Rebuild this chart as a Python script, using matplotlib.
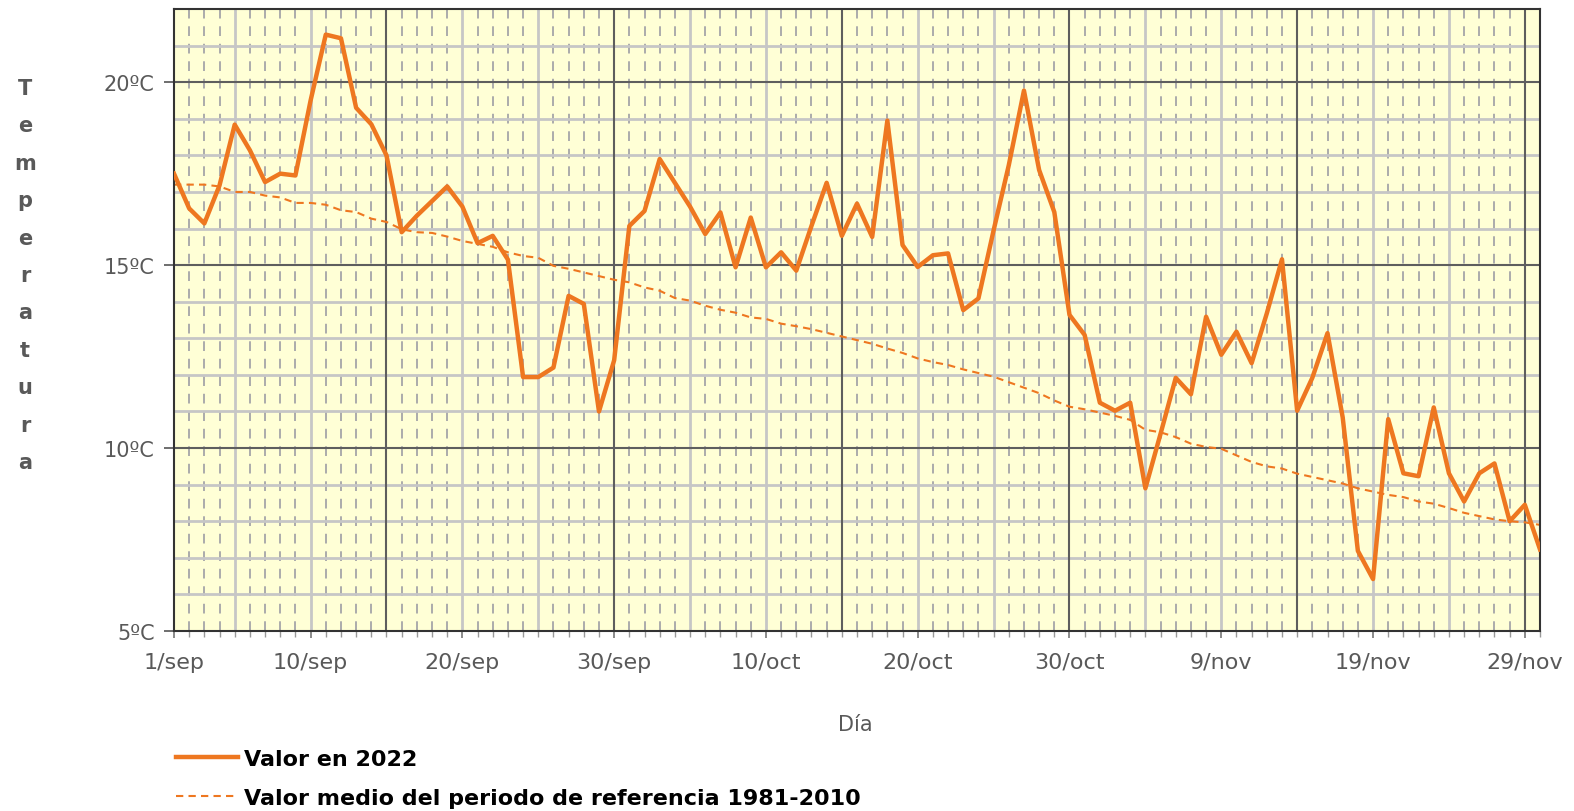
import numpy as np
import matplotlib
matplotlib.use("Agg")
import matplotlib.pyplot as plt

# ---- data ----
days = list(range(1, 92))  # 1 = 1/sep ... 91 = 30/nov
valor_2022 = [
    17.5, 16.55, 16.14, 17.18, 18.84, 18.14, 17.27, 17.5, 17.45, 19.5,
    21.3, 21.2, 19.3, 18.85, 18.0, 15.9, 16.35, 16.75, 17.15, 16.6,
    15.6, 15.8, 15.15, 11.94, 11.94, 12.2, 14.16, 13.94, 11.0, 12.4,
    16.07, 16.48, 17.9, 17.25, 16.6, 15.85, 16.44, 14.94, 16.3, 14.94,
    15.35, 14.85, 16.07, 17.25, 15.8, 16.68, 15.77, 18.95, 15.55, 14.95,
    15.27, 15.32, 13.77, 14.09, 15.95, 17.73, 19.77, 17.6, 16.45, 13.64,
    13.09, 11.24, 11.02, 11.24, 8.9, 10.39, 11.92, 11.47, 13.59, 12.55,
    13.18, 12.32, 13.68, 15.16, 11.02, 11.92, 13.14, 10.84, 7.19, 6.42,
    10.79, 9.31, 9.23, 11.11, 9.31, 8.54, 9.31, 9.58, 8.0, 8.45,
    7.23,
]
valor_medio = [
    17.2, 17.2, 17.2, 17.15, 17.0, 17.0, 16.9, 16.85, 16.7, 16.7,
    16.65, 16.5, 16.45, 16.27, 16.18, 15.98, 15.9, 15.88, 15.78, 15.66,
    15.58, 15.5, 15.35, 15.25, 15.2, 14.98, 14.9, 14.8, 14.7, 14.6,
    14.53, 14.39, 14.3, 14.1, 14.03, 13.89, 13.78, 13.7, 13.57, 13.53,
    13.4, 13.33, 13.25, 13.15, 13.05, 12.95, 12.85, 12.72, 12.6, 12.45,
    12.35, 12.27, 12.15, 12.05, 11.95, 11.8, 11.65, 11.5, 11.3, 11.13,
    11.06, 10.97, 10.88, 10.77, 10.5, 10.43, 10.3, 10.12, 10.03, 9.98,
    9.8, 9.62, 9.5, 9.44, 9.3, 9.21, 9.12, 9.03, 8.9, 8.81,
    8.72, 8.66, 8.54, 8.48, 8.36, 8.23, 8.14, 8.05, 8.0, 7.97,
    7.9,
]
xtick_pos = [1, 10, 20, 30, 40, 50, 60, 70, 80, 90]
xtick_labels = ["1/sep", "10/sep", "20/sep", "30/sep", "10/oct", "20/oct",
                "30/oct", "9/nov", "19/nov", "29/nov"]
ytick_pos = [5, 10, 15, 20]
ytick_labels = ["5ºC", "10ºC", "15ºC", "20ºC"]
label_2022 = "Valor en 2022"
label_medio = "Valor medio del periodo de referencia 1981-2010"

# ---- style ----
W, H = 1574, 812
orange = "#EE7720"
gray_txt = "#595959"
plt.rcParams["font.family"] = ["DejaVu Sans"]

fig = plt.figure(figsize=(W / 100, H / 100), dpi=100)
L, R, T, B = 174, 1540, 10, 632
ax = fig.add_axes([L / W, 1 - B / H, (R - L) / W, (B - T) / H])
ax.set_facecolor("#FFFFD6")
ax.set_xlim(1, 91)
ax.set_ylim(5, 22)

# grid: daily dotted verticals
for d in days:
    if d % 5 != 0:
        ax.axvline(d, color="#ABABAB", lw=1.4, ls=(0, (5, 4)), zorder=0.5)
# light grid
for d in range(5, 92, 5):
    if d % 15 != 0:
        ax.axvline(d, color="#C6C6C6", lw=2.0, zorder=0.6)
for t in range(6, 22):
    if t % 5 != 0:
        ax.axhline(t, color="#C6C6C6", lw=2.0, zorder=0.6)
# major grid
for d in range(15, 92, 15):
    ax.axvline(d, color="#5E5E5E", lw=1.5, zorder=0.7)
for t in (10, 15, 20):
    ax.axhline(t, color="#5E5E5E", lw=1.5, zorder=0.7)

ax.plot(days, valor_medio, color=orange, lw=1.5, ls=(0, (3.5, 2.5)),
        label=label_medio, zorder=2)
ax.plot(days, valor_2022, color=orange, lw=3.2, label=label_2022, zorder=3)

ax.set_xticks(xtick_pos)
ax.set_xticklabels(xtick_labels)
ax.set_xticks(days, minor=True)
ax.set_yticks(ytick_pos)
ax.set_yticklabels(ytick_labels)
ax.tick_params(axis="x", which="major", length=5, width=1.2, color="#777777",
               labelsize=16, labelcolor=gray_txt, pad=10)
ax.tick_params(axis="x", which="minor", length=4, width=1.0, color="#999999")
ax.tick_params(axis="y", which="major", length=7, width=1.2, color="#555555",
               labelsize=15, labelcolor=gray_txt, pad=7)
for s in ax.spines.values():
    s.set_color("#333333")
    s.set_linewidth(1.5)

# axis titles
fig.text(25 / W, 1 - 276 / H, "\n".join("Temperatura"), ha="center",
         va="center", fontsize=15, color=gray_txt, fontweight="bold",
         linespacing=2.09)
fig.text(855 / W, 1 - 725 / H, "Día", ha="center", va="center",
         fontsize=15, color=gray_txt)

# legend
h, lab = ax.get_legend_handles_labels()
fig.legend(h[::-1], lab[::-1], loc="upper left",
           bbox_to_anchor=(176 / W, 1 - 750 / H), frameon=False,
           prop={"weight": "bold", "size": 16}, handlelength=2.8,
           handletextpad=0.25, labelspacing=0.85, borderpad=0, borderaxespad=0)

fig.savefig("out.png", dpi=100)
